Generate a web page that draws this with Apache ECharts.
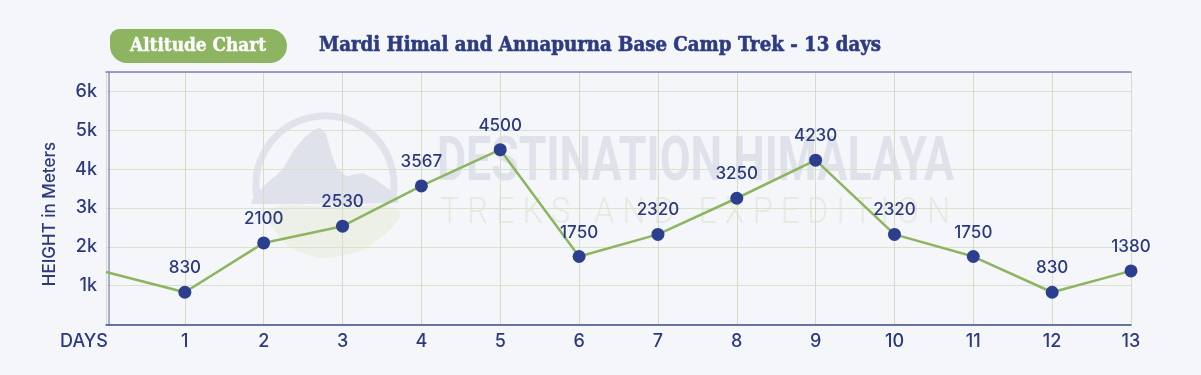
<!DOCTYPE html>
<html><head><meta charset="utf-8">
<script src="https://cdn.jsdelivr.net/npm/echarts@6/dist/echarts.min.js"></script>
<style>html,body{margin:0;padding:0;background:#f5f6f9}#c{width:1201px;height:375px}</style>
</head><body><div id="c"></div>
<script>
// ---- data ----
const dayLabels = ['DAYS','1','2','3','4','5','6','7','8','9','10','11','12','13'];
const altitudes = [1350, 830, 2100, 2530, 3567, 4500, 1750, 2320, 3250, 4230, 2320, 1750, 830, 1380];
const yTicks = [1000, 2000, 3000, 4000, 5000, 6000];
const titleText = 'Mardi Himal and Annapurna Base Camp Trek - 13 days';
const badgeText = 'Altitude Chart';
const yName = 'HEIGHT in Meters';

const NAVY = '#2b3a7e';
const meas = document.createElement('canvas').getContext('2d');
function tw(font, t){ meas.font = font; return meas.measureText(t).width; }

const wmFont1 = 'bold 62px Roboto';
const wm1 = 'DESTINATION HIMALAYA';
const wmFont2 = '300 36px Roboto';
const wm2 = 'T R E K S   A N D   E X P E D I T I O N';
const titleFont = 'bold 20px "DejaVu Serif"';
const badgeFont = 'bold 18px "DejaVu Serif"';

const chart = echarts.init(document.getElementById('c'), null, {renderer:'canvas'});
const seriesData = altitudes.map((v,i)=> i===0 ? {value:v, symbol:'none', label:{show:false}} : v);

chart.setOption({
  backgroundColor:'#f5f6f9',
  animation:false,
  grid:{left:106, right:70, top:72, bottom:50.5, containLabel:false},
  xAxis:[{
    type:'category', data:dayLabels, boundaryGap:false,
    axisLine:{show:true, lineStyle:{color:'#3f4b8c', width:1.5}},
    axisTick:{show:false},
    axisLabel:{interval:0, color:NAVY, fontSize:18, fontWeight:500, fontFamily:'Inter', margin:8,
      formatter:(v,i)=> i===0 ? '{d|'+v+'}' : v,
      rich:{d:{color:NAVY, fontSize:18, fontWeight:500, fontFamily:'Inter', padding:[0,44,0,0]}}},
    splitLine:{show:true, interval:0, lineStyle:{color:'#d5dec4', width:1}}
  },{
    type:'category', data:dayLabels, boundaryGap:false, position:'top',
    axisLine:{show:true, lineStyle:{color:'#7c82ba', width:1.5}},
    axisTick:{show:false}, axisLabel:{show:false}, splitLine:{show:false}
  }],
  yAxis:{
    type:'value', min:0, max:6500, interval:1000, offset:-3,
    axisLine:{show:true, lineStyle:{color:'#8e93c6', width:1.5}},
    axisTick:{show:false},
    axisLabel:{color:NAVY, fontSize:18, fontWeight:500, fontFamily:'Inter', margin:12,
      formatter:v=> yTicks.indexOf(v)>=0 ? (v/1000)+'k' : ''},
    splitLine:{show:true, lineStyle:{color:'#d9e2cc', width:1}}
  },
  graphic:[
    // watermark logo
    {type:'arc', z:-5, shape:{cx:325, cy:185, r:69, startAngle:Math.PI*0.93, endAngle:Math.PI*2.08},
     style:{stroke:'#e0e3ec', lineWidth:7, fill:null}},
    {type:'polygon', z:-5, shape:{smooth:0.1, points:[[252,200],[266,184],[282,170],[294,150],[304,138],[314,130],[320,128],[326,134],[331,152],[337,168],[347,176],[362,173],[376,180],[390,190],[398,198],[398,203],[252,204]]},
     style:{fill:'#dfe2eb'}},
    {type:'polygon', z:-5, shape:{smooth:0.5, points:[[268,210],[330,207],[398,210],[380,238],[340,256],[300,252],[276,232]]},
     style:{fill:'#ecf0e7'}},
    {type:'text', z:-5, x:437, y:164, scaleX: 517/tw(wmFont1, wm1),
     style:{text:wm1, font:wmFont1, fill:'#dfe2ea', textAlign:'left', textVerticalAlign:'middle'}},
    {type:'text', z:-5, x:440, y:214, scaleX: 510/tw(wmFont2, wm2),
     style:{text:wm2, font:wmFont2, fill:'#e6eae1', textAlign:'left', textVerticalAlign:'middle'}},
    // badge
    {type:'rect', shape:{x:110, y:29, width:177, height:34, r:[9,17,17,17]}, style:{fill:'#8db461'}},
    {type:'text', x:198, y:46, scaleX: 136/tw(badgeFont, badgeText),
     style:{text:badgeText, font:badgeFont, fill:'#ffffff', stroke:'#ffffff', lineWidth:0.4, textAlign:'center', textVerticalAlign:'middle'}},
    // title
    {type:'text', x:319, y:46, scaleX: 562/tw(titleFont, titleText),
     style:{text:titleText, font:titleFont, fill:'#2d3b80', stroke:'#2d3b80', lineWidth:0.6, textAlign:'left', textVerticalAlign:'middle'}},
    // y axis name
    {type:'text', x:50, y:214, rotation:Math.PI/2,
     style:{text:yName, font:'500 17px Inter', fill:NAVY, textAlign:'center', textVerticalAlign:'middle'}}
  ],
  series:[{
    type:'line', data:seriesData, xAxisIndex:0,
    symbol:'circle', symbolSize:13,
    itemStyle:{color:'#2c3e8e'},
    lineStyle:{color:'#8db560', width:2.5},
    label:{show:true, position:'top', distance:9, color:NAVY, fontSize:17, fontWeight:500, fontFamily:'Inter'},
    z:5
  }]
});
</script></body></html>
